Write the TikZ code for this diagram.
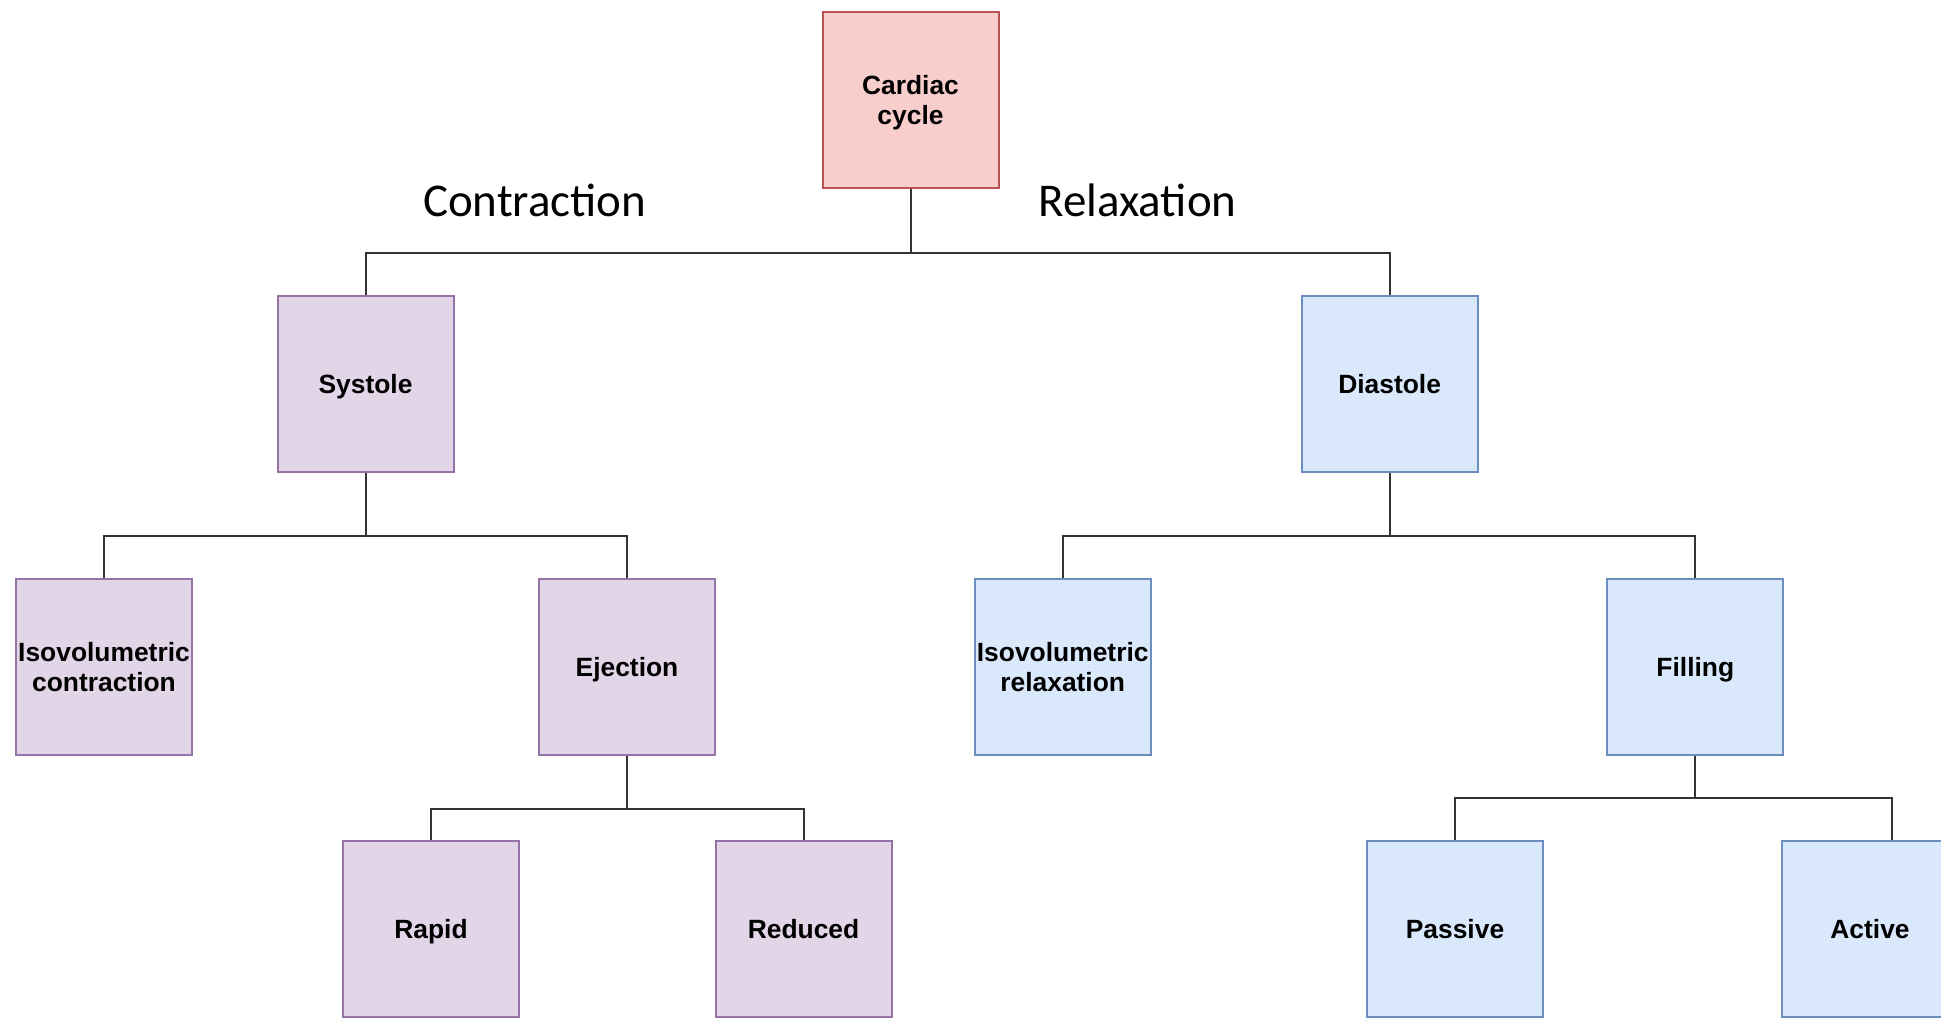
\documentclass[tikz,border=0pt]{standalone}
\usepackage{fontspec}
\newfontfamily\boxfont{Liberation Sans}
\newfontfamily\phasefont{Carlito}
\definecolor{redfill}{HTML}{F8CECC}
\definecolor{redline}{HTML}{B85450}
\definecolor{purplefill}{HTML}{E1D5E7}
\definecolor{purpleline}{HTML}{9673A6}
\definecolor{bluefill}{HTML}{DAE8FC}
\definecolor{blueline}{HTML}{6C8EBF}
\definecolor{linkcolor}{HTML}{333333}
\tikzset{
  card/.style = {draw, line width = 1pt, minimum width = 88pt, minimum height = 88pt, inner sep = 0pt, align = center, text height = 9.45pt, text depth = 0pt, font = \boxfont\bfseries\fontsize{13.2pt}{14.8pt}\selectfont},
  twolines/.style = {text height = 24.25pt, text depth = 0pt},
  redbox/.style = {card, fill = redfill, draw = redline},
  purplebox/.style = {card, fill = purplefill, draw = purpleline},
  bluebox/.style = {card, fill = bluefill, draw = blueline},
  phase/.style = {anchor = base, inner sep = 0pt, font = \phasefont\fontsize{23.5pt}{28pt}\selectfont},
  link/.style = {draw = linkcolor, line width = 1pt}
}
\begin{document}
\begin{tikzpicture}[x = 0.5pt, y = -0.5pt]
\useasboundingbox (0,0) rectangle (1941,1017);
\node [redbox, twolines] (cardiac) at (910.5,100) {Cardiac\\cycle};
\node [phase] (contraction) at (534.7,216.7) {Contraction};
\node [phase] (relaxation) at (1137.5,216.7) {Relaxation};
\node [purplebox] (systole) at (365.5,383.7) {Systole};
\node [bluebox] (diastole) at (1389.6,383.7) {Diastole};
\node [purplebox, twolines] (isocontraction) at (104,667) {Isovolumetric\\contraction};
\node [purplebox] (ejection) at (627,667) {Ejection};
\node [bluebox, twolines] (isorelaxation) at (1062.7,667) {Isovolumetric\\relaxation};
\node [bluebox] (filling) at (1695.3,667) {Filling};
\node [purplebox] (rapid) at (431,929.3) {Rapid};
\node [purplebox] (reduced) at (803.5,929.3) {Reduced};
\node [bluebox] (passive) at (1455,929.3) {Passive};
\node [bluebox] (active) at (1870,929.3) {Active};
\coordinate (joinCardiac) at (910.5,253);
\coordinate (joinSystole) at (365.5,535.7);
\coordinate (joinDiastole) at (1389.6,535.7);
\coordinate (joinEjection) at (627,809);
\coordinate (joinFilling) at (1695.3,798);
\draw [link] (cardiac) -- (joinCardiac);
\draw [link] (systole) |- (joinCardiac) -| (diastole);
\draw [link] (systole) -- (joinSystole);
\draw [link] (isocontraction) |- (joinSystole) -| (ejection);
\draw [link] (diastole) -- (joinDiastole);
\draw [link] (isorelaxation) |- (joinDiastole) -| (filling);
\draw [link] (ejection) -- (joinEjection);
\draw [link] (rapid) |- (joinEjection) -| (reduced);
\draw [link] (filling) -- (joinFilling);
\draw [link] (passive) |- (joinFilling) -| ([xshift = 10.8pt]active.north);
\end{tikzpicture}
\end{document}
